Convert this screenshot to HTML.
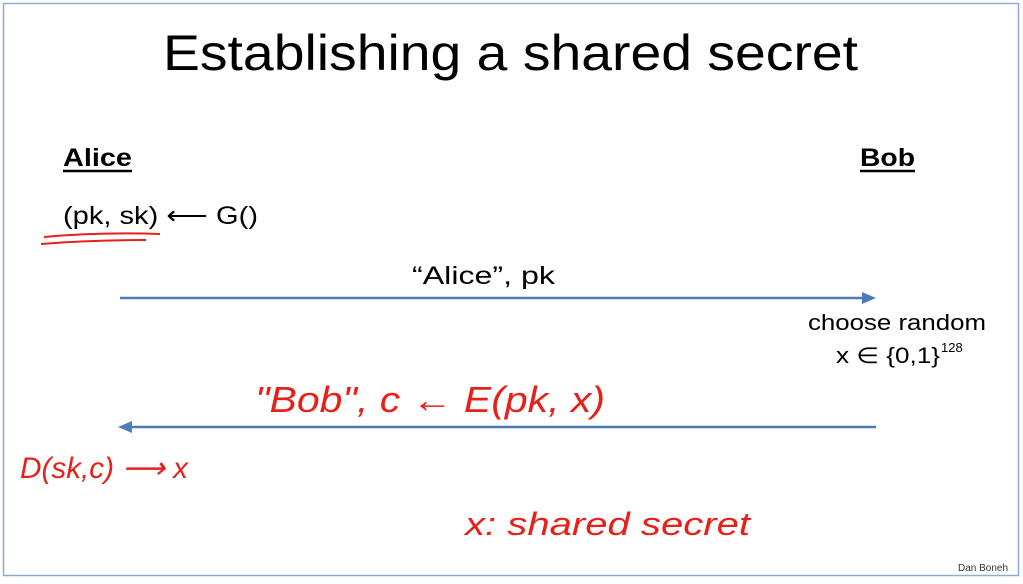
<!DOCTYPE html>
<html><head><style>html,body{margin:0;padding:0;background:#fff}</style></head><body>
<svg width="1023" height="579" xmlns="http://www.w3.org/2000/svg" font-family="Liberation Sans, sans-serif">
<rect x="0" y="0" width="1023" height="579" fill="#fff"/>
<rect x="3.5" y="3.5" width="1015" height="572" fill="none" stroke="#8eaadb" stroke-width="1.5"/>
<text x="163" y="70" font-size="50" textLength="695" lengthAdjust="spacingAndGlyphs" fill="#000">Establishing a shared secret</text>
<text x="63" y="166" font-size="25" font-weight="bold" textLength="69" lengthAdjust="spacingAndGlyphs">Alice</text>
<line x1="63" y1="171" x2="132" y2="171" stroke="#000" stroke-width="2.5"/>
<text x="860" y="166" font-size="25" font-weight="bold" textLength="55" lengthAdjust="spacingAndGlyphs">Bob</text>
<line x1="860" y1="171" x2="915" y2="171" stroke="#000" stroke-width="2.5"/>
<text x="63" y="224" font-size="25" textLength="195" lengthAdjust="spacingAndGlyphs">(pk, sk) ⟵ G()</text>
<path d="M44 237 Q100 232 160 234 M41 244 Q90 240 146 240" stroke="#e8201a" stroke-width="2" fill="none"/>
<text x="412" y="284" font-size="25" textLength="143" lengthAdjust="spacingAndGlyphs">“Alice”,   pk</text>
<line x1="120" y1="298" x2="868" y2="298" stroke="#4f7ab8" stroke-width="2.5"/>
<path d="M876 298 L862 292 L862 304 Z" fill="#4f7ab8"/>
<text x="808" y="330" font-size="22" textLength="178" lengthAdjust="spacingAndGlyphs">choose random</text>
<text x="836" y="363" font-size="22" textLength="104" lengthAdjust="spacingAndGlyphs">x ∈ {0,1}</text>
<text x="941" y="352" font-size="13">128</text>
<line x1="128" y1="427" x2="876" y2="427" stroke="#4f7ab8" stroke-width="2.5"/>
<path d="M118 427 L132 421 L132 433 Z" fill="#4f7ab8"/>
<g fill="#e8201a" font-family="Liberation Sans, sans-serif" font-style="italic">
<text x="255" y="412" font-size="36" textLength="350" lengthAdjust="spacingAndGlyphs">"Bob",  c ← E(pk, x)</text>
<text x="20" y="478" font-size="30" textLength="168" lengthAdjust="spacingAndGlyphs">D(sk,c) ⟶ x</text>
<text x="465" y="535" font-size="32" textLength="285" lengthAdjust="spacingAndGlyphs">x:  shared  secret</text>
</g>
<text x="958" y="571" font-size="10" fill="#333">Dan Boneh</text>
</svg>
</body></html>
